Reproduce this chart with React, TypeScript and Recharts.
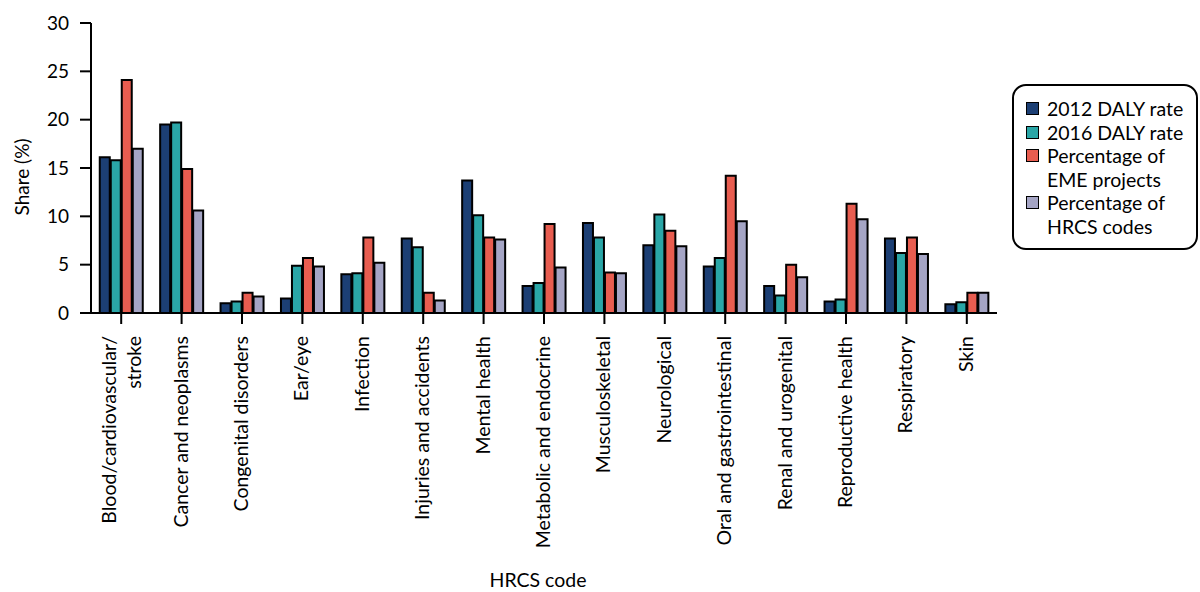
import { BarChart, Bar, XAxis, YAxis, Legend } from 'recharts';

const categories = [
  'Blood/cardiovascular/ stroke',
  'Cancer and neoplasms',
  'Congenital disorders',
  'Ear/eye',
  'Infection',
  'Injuries and accidents',
  'Mental health',
  'Metabolic and endocrine',
  'Musculoskeletal',
  'Neurological',
  'Oral and gastrointestinal',
  'Renal and urogenital',
  'Reproductive health',
  'Respiratory',
  'Skin',
];

const daly2012 = [16.1, 19.5, 1.0, 1.5, 4.0, 7.7, 13.7, 2.8, 9.3, 7.0, 4.8, 2.8, 1.2, 7.7, 0.9];
const daly2016 = [15.8, 19.7, 1.2, 4.9, 4.1, 6.8, 10.1, 3.1, 7.8, 10.2, 5.7, 1.8, 1.4, 6.2, 1.1];
const emeProjects = [24.1, 14.9, 2.1, 5.7, 7.8, 2.1, 7.8, 9.2, 4.2, 8.5, 14.2, 5.0, 11.3, 7.8, 2.1];
const hrcsCodes = [17.0, 10.6, 1.7, 4.8, 5.2, 1.3, 7.6, 4.7, 4.1, 6.9, 9.5, 3.7, 9.7, 6.1, 2.1];

const yTicks = [0, 5, 10, 15, 20, 25, 30];

const series = [
  { key: 'd2012', name: '2012 DALY rate', color: '#1c3f74', lines: ['2012 DALY rate'] },
  { key: 'd2016', name: '2016 DALY rate', color: '#2aa6a7', lines: ['2016 DALY rate'] },
  { key: 'eme', name: 'Percentage of EME projects', color: '#e85d50', lines: ['Percentage of', 'EME projects'] },
  { key: 'hrcs', name: 'Percentage of HRCS codes', color: '#a5a5c5', lines: ['Percentage of', 'HRCS codes'] },
];

const data = categories.map((name, i) => ({
  name,
  d2012: daly2012[i],
  d2016: daly2016[i],
  eme: emeProjects[i],
  hrcs: hrcsCodes[i],
}));

const FONT = 'Lato, "Open Sans", sans-serif';

function CategoryTick({ x, y, payload }: any) {
  const parts: string[] = String(payload.value).split('/ ');
  const lines = parts.length > 1 ? [parts[0] + '/', parts[1]] : parts;
  const offsets = lines.length > 1 ? [-5, 20] : [6];
  return (
    <g transform={`translate(${x},${y + 10})`}>
      <text transform="rotate(-90)" textAnchor="end" fontSize={19.5} fill="#000" fontFamily={FONT}>
        {lines.map((l, i) => (
          <tspan key={i} x={0} y={offsets[i]}>
            {l}
          </tspan>
        ))}
      </text>
    </g>
  );
}

function LegendBox() {
  return (
    <div
      style={{
        border: '2px solid #000',
        borderRadius: 14,
        padding: '11px 8px 10px 12px',
        fontFamily: FONT,
        fontSize: 19.5,
        lineHeight: '23.5px',
        color: '#000',
        boxSizing: 'border-box',
        width: 186,
      }}
    >
      {series.map((s) => (
        <div key={s.key} style={{ display: 'flex', alignItems: 'flex-start' }}>
          <span
            style={{
              display: 'inline-block',
              width: 11,
              height: 11,
              background: s.color,
              border: '1.5px solid #000',
              marginTop: 5,
              marginRight: 8,
              flexShrink: 0,
            }}
          />
          <span>
            {s.lines.map((l) => (
              <div key={l}>{l}</div>
            ))}
          </span>
        </div>
      ))}
    </div>
  );
}

export default function App() {
  return (
    <div style={{ position: 'absolute', left: 0, top: 0, fontFamily: FONT }}>
      <BarChart
        width={1200}
        height={592}
        data={data}
        margin={{ top: 23, right: 203, left: 0, bottom: 0 }}
        barCategoryGap="14.5%"
        barGap={1}
      >
        <XAxis
          dataKey="name"
          interval={0}
          height={279}
          tick={<CategoryTick />}
          tickSize={11}
          tickLine={{ stroke: '#000', strokeWidth: 2 }}
          axisLine={{ stroke: '#000', strokeWidth: 2 }}
          label={() => (
            <text x={538} y={587} textAnchor="middle" fontSize={19.5} fill="#000" fontFamily={FONT}>
              HRCS code
            </text>
          )}
        />
        <YAxis
          width={91}
          domain={[0, 30]}
          ticks={yTicks}
          interval={0}
          tickSize={11}
          tickMargin={11}
          tick={{ fill: '#000', fontSize: 19, fontFamily: FONT }}
          tickLine={{ stroke: '#000', strokeWidth: 2 }}
          axisLine={{ stroke: '#000', strokeWidth: 2 }}
          label={() => (
            <text
              x={29}
              y={177}
              transform="rotate(-90 29 177)"
              textAnchor="middle"
              fontSize={19}
              fill="#000"
              fontFamily={FONT}
            >
              Share (%)
            </text>
          )}
        />
        <Legend
          layout="vertical"
          align="center"
          verticalAlign="middle"
          content={<LegendBox />}
          wrapperStyle={{ left: 1012, top: 84, width: 186, height: 162 }}
        />
        {series.map((s) => (
          <Bar
            key={s.key}
            dataKey={s.key}
            name={s.name}
            fill={s.color}
            stroke="#000"
            strokeWidth={2}
            isAnimationActive={false}
          />
        ))}
      </BarChart>
    </div>
  );
}
